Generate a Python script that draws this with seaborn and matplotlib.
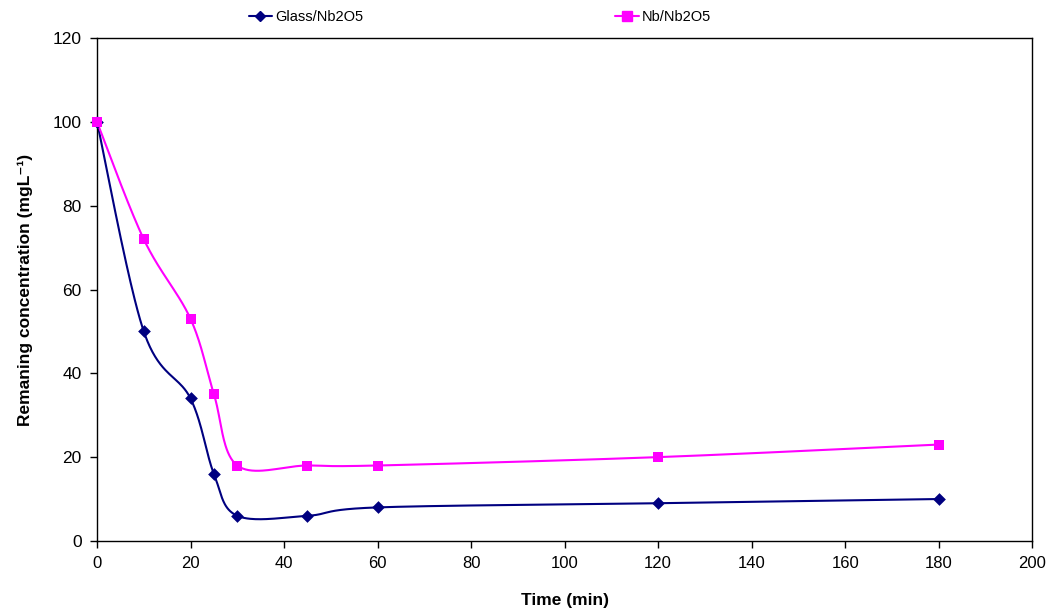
import numpy as np
import pandas as pd
import matplotlib
matplotlib.use("Agg")
import matplotlib.pyplot as plt
from matplotlib.lines import Line2D
from matplotlib import font_manager
import seaborn as sns

time_min = [0, 10, 20, 25, 30, 45, 60, 120, 180]
glass_nb2o5 = [100, 50, 34, 16, 6, 6, 8, 9, 10]
nb_nb2o5 = [100, 72, 53, 35, 18, 18, 18, 20, 23]
series_names = ["Glass/Nb2O5", "Nb/Nb2O5"]
colors = ["#000080", "#FF00FF"]
markers = ["D", "s"]

sns.set_theme(style="white")
plt.rcParams["font.family"] = ["Liberation Sans", "DejaVu Sans"]
plt.rcParams["text.color"] = "black"
plt.rcParams["axes.labelcolor"] = "black"

available = {f.name for f in font_manager.fontManager.ttflist}
narrow = "Liberation Sans Narrow" if "Liberation Sans Narrow" in available else "Liberation Sans"

fig = plt.figure(figsize=(10.52, 6.14), dpi=100)
ax = fig.add_axes([0.0922, 0.119, 0.889, 0.819])

XMAX, YMAX = 200, 120
W, H = 935.0, 503.0


def smooth(xs, ys, n=40):
    # Excel-style smoothed line (Catmull-Rom Bezier) in display-scaled space
    px = np.asarray(xs, float) * W / XMAX
    py = np.asarray(ys, float) * H / YMAX
    P = np.column_stack([px, py])
    P = np.vstack([P[0], P, P[-1]])
    out = []
    for i in range(1, len(P) - 2):
        p0, p1, p2, p3 = P[i - 1], P[i], P[i + 1], P[i + 2]
        c1 = p1 + (p2 - p0) / 6.0
        c2 = p2 - (p3 - p1) / 6.0
        t = np.linspace(0, 1, n)[:, None]
        b = ((1 - t) ** 3) * p1 + 3 * ((1 - t) ** 2) * t * c1 + 3 * (1 - t) * t ** 2 * c2 + t ** 3 * p2
        out.append(b if i == 1 else b[1:])
    out = np.vstack(out)
    return out[:, 0] * XMAX / W, out[:, 1] * YMAX / H


for name, vals, c, m in zip(series_names, [glass_nb2o5, nb_nb2o5], colors, markers):
    sx, sy = smooth(time_min, vals)
    dfl = pd.DataFrame({"x": sx, "y": sy})
    sns.lineplot(data=dfl, x="x", y="y", sort=False, color=c, lw=1.5, ax=ax, estimator=None)
    dfp = pd.DataFrame({"x": time_min, "y": vals})
    sns.scatterplot(data=dfp, x="x", y="y", marker=m, color=c, s=60 if m == "s" else 42,
                    edgecolor=c, linewidth=0, ax=ax, zorder=5)
for coll in ax.collections:
    coll.set_clip_on(False)

ax.set_xlim(0, XMAX)
ax.set_ylim(0, YMAX)
ax.set_xticks(np.arange(0, 201, 20))
ax.set_yticks(np.arange(0, 121, 20))
for s in ax.spines.values():
    s.set_color("black")
    s.set_linewidth(1.0)
ax.tick_params(axis="both", which="major", direction="out", length=5, width=1, color="black",
               labelsize=12.5, labelcolor="black", left=True, bottom=True, pad=6)
for lab in ax.get_xticklabels():
    lab.set_family([narrow, "DejaVu Sans"])
    lab.set_fontsize(12)
ax.set_xlabel("Time (min)", fontsize=12.5, fontweight="bold", labelpad=16)
ax.set_ylabel("Remaning concentration (mgL\u207b\u00b9)", fontsize=12.5,
              fontweight="bold", labelpad=14)
ax.grid(False)

handles = [Line2D([0], [0], color=c, marker=m, markersize=7 if m == "s" else 5.5, lw=1.5,
                  markerfacecolor=c, markeredgecolor=c) for c, m in zip(colors, markers)]
fig.legend(handles, series_names, loc="center", bbox_to_anchor=(0.456, 0.972), ncol=2,
           frameon=False, fontsize=10.5, columnspacing=17.3, handlelength=1.6, handletextpad=0.2)

fig.savefig("out.png", dpi=100)
